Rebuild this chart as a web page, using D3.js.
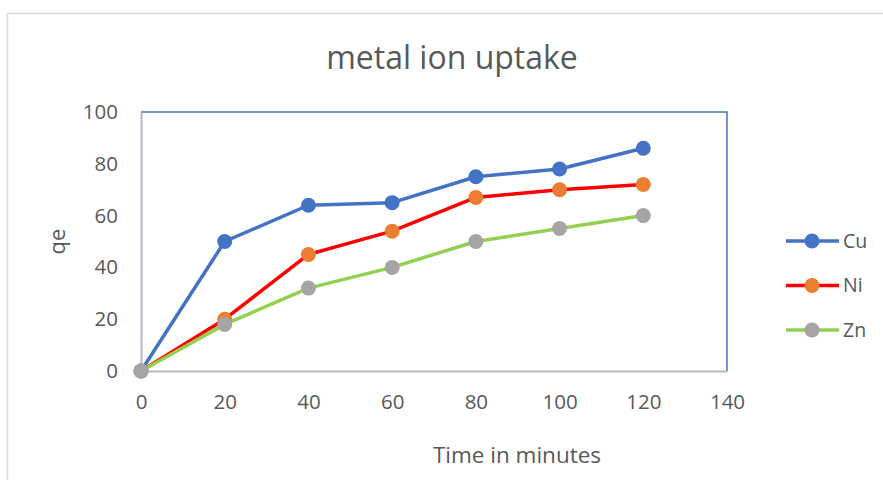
<!DOCTYPE html>
<html>
<head>
<meta charset="utf-8">
<script src="https://cdn.jsdelivr.net/npm/d3@7/dist/d3.min.js"></script>
<style>
  html, body { margin: 0; padding: 0; background: #fff; }
  svg { display: block; font-family: "Open Sans", sans-serif; }
</style>
</head>
<body>
<svg id="chart" width="883" height="480"></svg>
<script>
// Sampling times (minutes) and uptake qe for each metal ion
const times = [0, 20, 40, 60, 80, 100, 120];
const cuValues = [0, 50, 64, 65, 75, 78, 86];
const niValues = [0, 20, 45, 54, 67, 70, 72];
const znValues = [0, 18, 32, 40, 50, 55, 60];
const seriesNames = ["Cu", "Ni", "Zn"];
const xTicks = [0, 20, 40, 60, 80, 100, 120, 140];
const yTicks = [0, 20, 40, 60, 80, 100];

const series = [
  { name: seriesNames[0], values: cuValues, line: "#4472c4", marker: "#4472c4" },
  { name: seriesNames[1], values: niValues, line: "#ff0000", marker: "#ed7d31" },
  { name: seriesNames[2], values: znValues, line: "#92d050", marker: "#a5a5a5" }
];

const svg = d3.select("#chart");
const textColor = "#595959";

// chart frame
svg.append("rect")
  .attr("x", 7.5).attr("y", 13.5)
  .attr("width", 900).attr("height", 500)
  .attr("fill", "#fff").attr("stroke", "#d9d9d9").attr("stroke-width", 1.5);

const plot = { left: 141, top: 112, right: 727, bottom: 371 };

const x = d3.scaleLinear().domain([0, 140]).range([plot.left, plot.right]);
const y = d3.scaleLinear().domain([0, 100]).range([plot.bottom, plot.top]);

// plot area outline: blue top/right, grey axes
svg.append("path")
  .attr("d", `M${plot.left},${plot.top}H${plot.right}V${plot.bottom}`)
  .attr("fill", "none").attr("stroke", "#4472c4").attr("stroke-width", 1.5);

const xAxis = svg.append("g")
  .attr("transform", `translate(0,${plot.bottom})`)
  .call(d3.axisBottom(x).tickValues(xTicks).tickSize(0));
const yAxis = svg.append("g")
  .attr("transform", `translate(${plot.left},0)`)
  .call(d3.axisLeft(y).tickValues(yTicks).tickSize(0).tickPadding(23));

[xAxis, yAxis].forEach(g => {
  g.select(".domain").attr("stroke", "#b4b8c8").attr("stroke-width", 2);
  g.selectAll("text")
    .attr("fill", textColor)
    .style("font-family", "Open Sans, sans-serif")
    .style("font-size", "20.5px");
});
xAxis.selectAll("text").attr("y", 38).attr("dy", 0);

// titles
svg.append("text")
  .attr("x", 452).attr("y", 69)
  .attr("text-anchor", "middle")
  .attr("fill", textColor)
  .style("font-size", "32px")
  .text("metal ion uptake");

svg.append("text")
  .attr("x", 517).attr("y", 463)
  .attr("text-anchor", "middle")
  .attr("fill", textColor)
  .style("font-size", "22.5px")
  .text("Time in minutes");

svg.append("text")
  .attr("transform", `translate(65,${(plot.top + plot.bottom) / 2}) rotate(-90)`)
  .attr("text-anchor", "middle")
  .attr("fill", textColor)
  .style("font-size", "22px")
  .text("qe");

// series lines and markers
const line = d3.line()
  .x((d, i) => x(times[i]))
  .y(d => y(d));

series.forEach(s => {
  svg.append("path")
    .datum(s.values)
    .attr("d", line)
    .attr("fill", "none")
    .attr("stroke", s.line)
    .attr("stroke-width", 3.5)
    .attr("stroke-linejoin", "round");
});
series.forEach(s => {
  svg.append("g")
    .selectAll("circle")
    .data(s.values)
    .join("circle")
    .attr("cx", (d, i) => x(times[i]))
    .attr("cy", d => y(d))
    .attr("r", 7.5)
    .attr("fill", s.marker);
});

// legend
const legend = svg.append("g");
series.forEach((s, i) => {
  const ly = 241 + i * 44.5;
  legend.append("line")
    .attr("x1", 786).attr("x2", 839)
    .attr("y1", ly).attr("y2", ly)
    .attr("stroke", s.line).attr("stroke-width", 3.5);
  legend.append("circle")
    .attr("cx", 812).attr("cy", ly).attr("r", 7.5)
    .attr("fill", s.marker);
  legend.append("text")
    .attr("x", 843).attr("y", ly)
    .attr("dy", "0.35em")
    .attr("fill", textColor)
    .style("font-size", "19.5px")
    .text(s.name);
});
</script>
</body>
</html>
